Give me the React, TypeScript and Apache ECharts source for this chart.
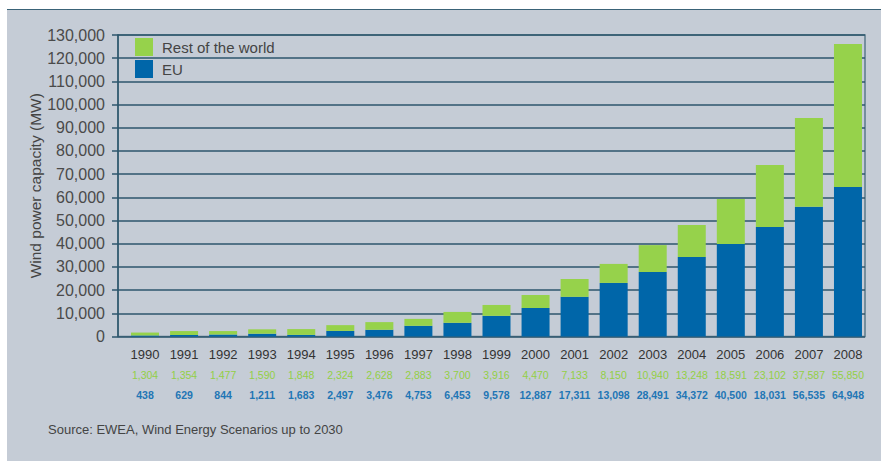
import React, { useEffect, useRef } from "react";
import * as echarts from "echarts";

const years = ["1990","1991","1992","1993","1994","1995","1996","1997","1998","1999","2000","2001","2002","2003","2004","2005","2006","2007","2008"];
// bar heights (MW)
const euValues = [440, 650, 850, 1200, 700, 2400, 2900, 4600, 5900, 8900, 12300, 17100, 23100, 27800, 34300, 39900, 47200, 55900, 64500];
const restValues = [1260, 1700, 1500, 1900, 2500, 2500, 3300, 3000, 4700, 4700, 5600, 7700, 8200, 11600, 13800, 19400, 26800, 38300, 61600];
// table labels printed under the axis
const restLabels = ["1,304","1,354","1,477","1,590","1,848","2,324","2,628","2,883","3,700","3,916","4,470","7,133","8,150","10,940","13,248","18,591","23,102","37,587","55,850"];
const euLabels = ["438","629","844","1,211","1,683","2,497","3,476","4,753","6,453","9,578","12,887","17,311","13,098","28,491","34,372","40,500","18,031","56,535","64,948"];

const FONT = "'Liberation Sans', Arial, Helvetica, sans-serif";
const GREEN = "#96d24b";
const BLUE = "#0066a9";
const GRID = "#2c566c";

export default function App() {
  const ref = useRef<HTMLDivElement>(null);
  useEffect(() => {
    if (!ref.current) return;
    const chart = echarts.init(ref.current, undefined, { renderer: "svg" });
    const yMax = 130000;
    chart.setOption({
      animation: false,
      backgroundColor: "transparent",
      textStyle: { fontFamily: FONT },
      legend: {
        orient: "vertical",
        left: 135,
        top: 38,
        padding: 0,
        itemWidth: 18,
        itemHeight: 18,
        itemGap: 4,
        icon: "rect",
        data: ["Rest of the world", "EU"],
        textStyle: { fontSize: 15, color: "#444", fontFamily: FONT, padding: [0, 0, 0, 4] },
      },
      grid: [
        { left: 118, right: 16, top: 35, bottom: 124.5, show: true, borderColor: "#5b7a8b", borderWidth: 1.5, backgroundColor: "transparent" },
        { left: 125.5, right: 13.5, top: 35, bottom: 124.5 },
      ],
      xAxis: [
        { type: "category", gridIndex: 0, data: years, show: false },
        {
          type: "category",
          gridIndex: 1,
          data: years,
          axisLine: { show: false },
          axisTick: { show: false },
          axisLabel: {
            interval: 0,
            margin: 7,
            formatter: (v: string, i: number) => `{y|${v}}\n{g|${restLabels[i]}}\n{b|${euLabels[i]}}`,
            rich: {
              y: { fontSize: 13, color: "#333", lineHeight: 21, fontFamily: FONT },
              g: { fontSize: 10.5, color: "#93cf45", lineHeight: 20, fontFamily: FONT },
              b: { fontSize: 10.5, color: "#1f76b5", fontWeight: "bold", lineHeight: 20, fontFamily: FONT },
            },
          },
        },
      ],
      yAxis: [
        {
          type: "value",
          gridIndex: 0,
          min: 0,
          max: yMax,
          interval: 10000,
          name: "Wind power capacity (MW)",
          nameLocation: "middle",
          nameGap: 75,
          nameMoveOverlap: false,
          nameTextStyle: { fontSize: 15.5, color: "#444", fontFamily: FONT },
          axisLine: { show: true, lineStyle: { color: GRID, width: 1.5 } },
          axisTick: { show: true, length: 6, lineStyle: { color: GRID, width: 1.5 } },
          axisLabel: {
            margin: 13,
            fontSize: 16,
            color: "#4a4a4a",
            fontFamily: FONT,
            formatter: (v: number) => v.toLocaleString("en-US"),
          },
          splitLine: { show: true, lineStyle: { color: GRID, width: 1.5 } },
        },
        { type: "value", gridIndex: 1, min: 0, max: yMax, show: false, splitLine: { show: false } },
      ],
      series: [
        {
          name: "EU",
          type: "bar",
          stack: "total",
          xAxisIndex: 1,
          yAxisIndex: 1,
          barWidth: 28,
          itemStyle: { color: BLUE },
          data: euValues,
        },
        {
          name: "Rest of the world",
          type: "bar",
          stack: "total",
          xAxisIndex: 1,
          yAxisIndex: 1,
          barWidth: 28,
          itemStyle: { color: GREEN },
          data: restValues,
        },
      ],
      graphic: [
        {
          type: "text",
          left: 48,
          top: 423,
          style: { text: "Source: EWEA, Wind Energy Scenarios up to 2030", fontSize: 13, fill: "#444", fontFamily: FONT },
        },
      ],
    });
    return () => chart.dispose();
  }, []);

  return (
    <div style={{ position: "absolute", left: 0, top: 0, width: 881, height: 461, background: "#ffffff", overflow: "hidden" }}>
      <div style={{ position: "absolute", left: 7, top: 8.5, width: 874, height: 453, background: "#c5ccd6", borderTop: "1.5px solid #3a6378" }} />
      <div ref={ref} style={{ position: "absolute", left: 0, top: 0, width: 881, height: 461 }} />
    </div>
  );
}
